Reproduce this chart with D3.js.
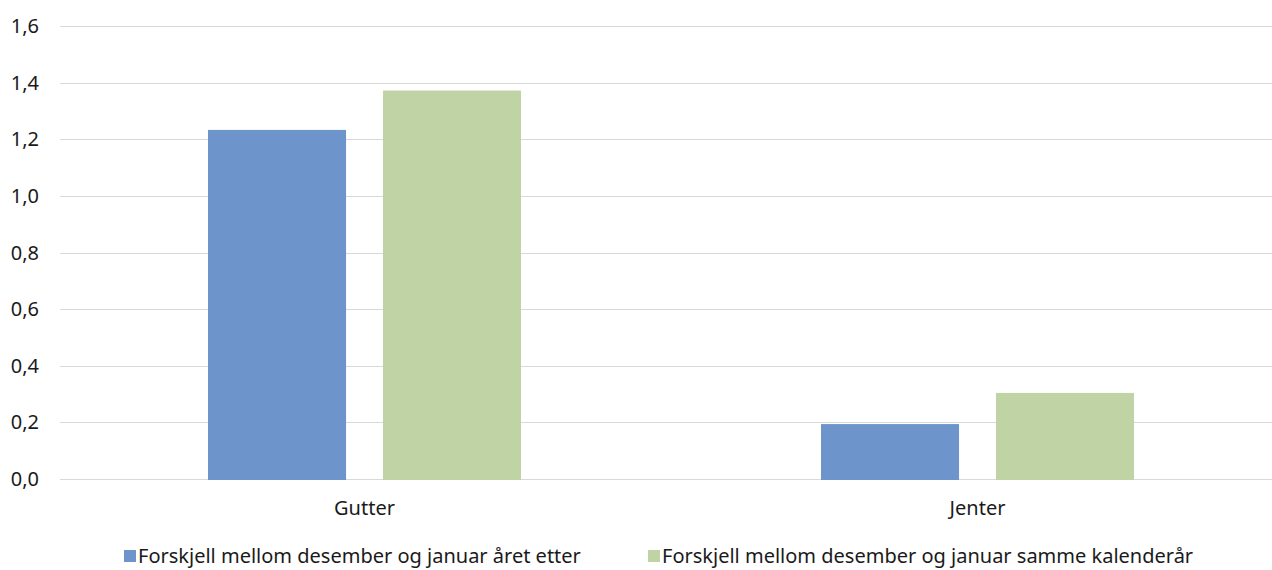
<!DOCTYPE html>
<html>
<head>
<meta charset="utf-8">
<script src="https://cdn.jsdelivr.net/npm/d3@7"></script>
<style>
  body { margin: 0; background: #fff; }
  svg { font-family: "Noto Sans", "Open Sans", sans-serif; }
</style>
</head>
<body>
<div id="chart"></div>
<script>
const categories = ["Gutter", "Jenter"];
const seriesNames = [
  "Forskjell mellom desember og januar året etter",
  "Forskjell mellom desember og januar samme kalenderår"
];
const aaretEtter = [1.233, 0.194];
const sammeAar = [1.372, 0.304];
const yTicks = [0, 0.2, 0.4, 0.6, 0.8, 1.0, 1.2, 1.4, 1.6];
const colors = ["#6E95CB", "#C0D3A4"];

const width = 1272, height = 570;
const plot = { left: 58, right: 1284, top: 26, bottom: 479 };
const fontSize = 20;

const svg = d3.select("#chart").append("svg")
  .attr("width", width)
  .attr("height", height);

const y = d3.scaleLinear().domain([0, 1.6]).range([plot.bottom, plot.top]);

const x0 = d3.scaleBand().domain(categories).range([plot.left, plot.right]).padding(0);
const groupW = 313;
const x1 = d3.scaleBand().domain(d3.range(seriesNames.length))
  .range([0, groupW]).paddingInner(0.211).paddingOuter(0);

const fmt = d => d3.format(".1f")(d).replace(".", ",");

// gridlines
svg.append("g")
  .selectAll("line")
  .data(yTicks)
  .join("line")
  .attr("x1", 60)
  .attr("x2", width)
  .attr("y1", d => Math.round(y(d)) + 0.5)
  .attr("y2", d => Math.round(y(d)) + 0.5)
  .attr("stroke", "#d9d9d9")
  .attr("stroke-width", 1);

// y labels
svg.append("g")
  .selectAll("text")
  .data(yTicks)
  .join("text")
  .attr("x", 39)
  .attr("y", d => y(d))
  .attr("dy", "0.35em")
  .attr("text-anchor", "end")
  .attr("font-size", fontSize)
  .attr("fill", "#1a1a1a")
  .text(fmt);

// bars
const series = [aaretEtter, sammeAar];
const groups = svg.append("g")
  .selectAll("g")
  .data(categories)
  .join("g")
  .attr("transform", c => `translate(${x0(c) + (x0.bandwidth() - groupW) / 2},0)`);

groups.selectAll("rect")
  .data((c, i) => series.map((s, k) => ({ k, v: s[i] })))
  .join("rect")
  .attr("x", d => x1(d.k))
  .attr("width", x1.bandwidth())
  .attr("y", d => y(d.v))
  .attr("height", d => y(0) - y(d.v) + 1)
  .attr("fill", d => colors[d.k]);

// category labels
svg.append("g")
  .selectAll("text")
  .data(categories)
  .join("text")
  .attr("x", c => x0(c) + x0.bandwidth() / 2)
  .attr("y", 508)
  .attr("dy", "0.35em")
  .attr("text-anchor", "middle")
  .attr("font-size", fontSize)
  .attr("fill", "#1a1a1a")
  .text(d => d);

// legend
const legendX = [124, 648];
const legend = svg.append("g")
  .selectAll("g")
  .data(seriesNames)
  .join("g")
  .attr("transform", (d, i) => `translate(${legendX[i]},556)`);

legend.append("rect")
  .attr("x", 0)
  .attr("y", -6)
  .attr("width", 12)
  .attr("height", 12)
  .attr("fill", (d, i) => colors[i]);

legend.append("text")
  .attr("x", 14)
  .attr("y", 0)
  .attr("dy", "0.35em")
  .attr("font-size", fontSize)
  .attr("fill", "#1a1a1a")
  .text(d => d);
</script>
</body>
</html>
